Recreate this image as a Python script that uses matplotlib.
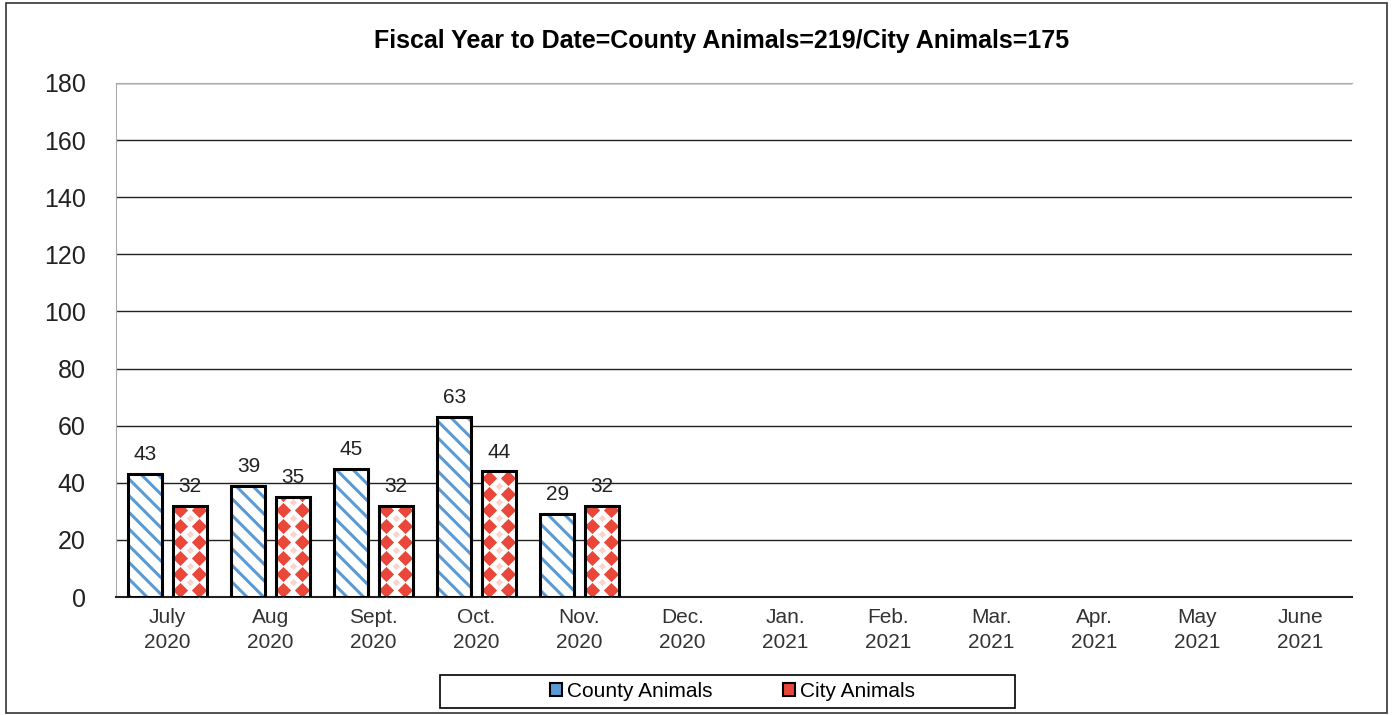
import numpy as np
import matplotlib
matplotlib.use("Agg")
import matplotlib.pyplot as plt
from matplotlib.patches import Rectangle, Patch

months = ["July\n2020", "Aug\n2020", "Sept.\n2020", "Oct.\n2020", "Nov.\n2020", "Dec.\n2020",
          "Jan.\n2021", "Feb.\n2021", "Mar.\n2021", "Apr.\n2021", "May\n2021", "June\n2021"]
county = [43, 39, 45, 63, 29]
city = [32, 35, 32, 44, 32]
title = "Fiscal Year to Date=County Animals=219/City Animals=175"

BLUE, RED = "#5b9bd5", "#e8473a"
plt.rcParams.update({"font.family": ["Liberation Sans", "DejaVu Sans"],
                     "hatch.linewidth": 2.2})

fig = plt.figure(figsize=(13.95, 7.15), dpi=100)
ax = fig.add_axes([0.0832, 0.165, 0.886, 0.719])
fig.patches.append(Rectangle((0.004, 0.003), 0.99, 0.993, transform=fig.transFigure,
                             fill=False, ec="#333333", lw=1.2))

x = np.arange(len(months))
w, off = 0.33, 0.215
cb = ax.bar(x[:len(county)] - off, county, w, facecolor="white", edgecolor=BLUE,
            hatch="\\\\", lw=0, zorder=3)
rb = ax.bar(x[:len(city)] + off, city, w, facecolor="white", lw=0, zorder=3)
for bars in (cb, rb):
    for b in bars:
        ax.add_patch(Rectangle((b.get_x(), 0), b.get_width(), b.get_height(), fill=False,
                               ec="black", lw=2.2, zorder=5))

# diamond pattern for city bars
for b in rb:
    rows = np.arange(2.6, b.get_height() + 3, 5.6)
    xs = np.concatenate([np.full(len(rows), b.get_x() + 0.07),
                         np.full(len(rows), b.get_x() + b.get_width() - 0.07)])
    sc = ax.scatter(xs, np.concatenate([rows, rows]), marker="D", s=60, color=RED,
                    lw=0, zorder=4)
    sc.set_clip_path(b)
    rows2 = rows + 2.8
    sc2 = ax.scatter(np.full(len(rows2), b.get_x() + b.get_width() / 2), rows2,
                     marker="D", s=14, color="#fbd3cc", lw=0, zorder=4)
    sc2.set_clip_path(b)

for bars, vals in ((cb, county), (rb, city)):
    for b, v in zip(bars, vals):
        ax.annotate(str(v), (b.get_x() + b.get_width() / 2, v), xytext=(0, 7),
                    textcoords="offset points", ha="center", va="bottom", fontsize=15,
                    color="#222222", zorder=6)

ax.set_xlim(-0.5, len(months) - 0.5)
ax.set_ylim(0, 180)
ax.set_yticks(range(0, 181, 20))
ax.set_xticks(x)
ax.set_xticklabels(months, fontsize=15, linespacing=1.4, color="#333333")
ax.tick_params(axis="y", labelsize=18, length=0, pad=22, colors="#222222")
ax.tick_params(axis="x", length=0, pad=8)
ax.grid(axis="y", color="#222222", lw=1.0, zorder=0)
ax.set_axisbelow(True)
ax.spines["right"].set_visible(False)
ax.spines["top"].set_color("#aaaaaa")
ax.spines["top"].set_linestyle((0, (3, 1)))
ax.spines["left"].set_color("#aaaaaa")
ax.spines["bottom"].set_color("#222222")
ax.spines["bottom"].set_linewidth(1.5)

fig.text(0.517, 0.942, title, ha="center", va="center", fontsize=18, fontweight="bold")

h1 = Patch(facecolor=BLUE, edgecolor="black", lw=1.5)
h2 = Patch(facecolor=RED, edgecolor="black", lw=1.5)
fig.legend([h1, h2], ["County Animals", "City Animals"], loc="center",
           bbox_to_anchor=(0.525, 0.033), ncol=2, fontsize=15, frameon=False,
           handlelength=0.55, handleheight=0.55, handletextpad=0.25,
           columnspacing=3.4, borderpad=0.3, borderaxespad=0)
# legend frame as in the reference
fig.patches.append(Rectangle((0.3154, 0.0098), 0.412, 0.046, transform=fig.transFigure,
                             fill=False, ec="black", lw=1.2))

fig.savefig("out.png", dpi=100, facecolor="white")
